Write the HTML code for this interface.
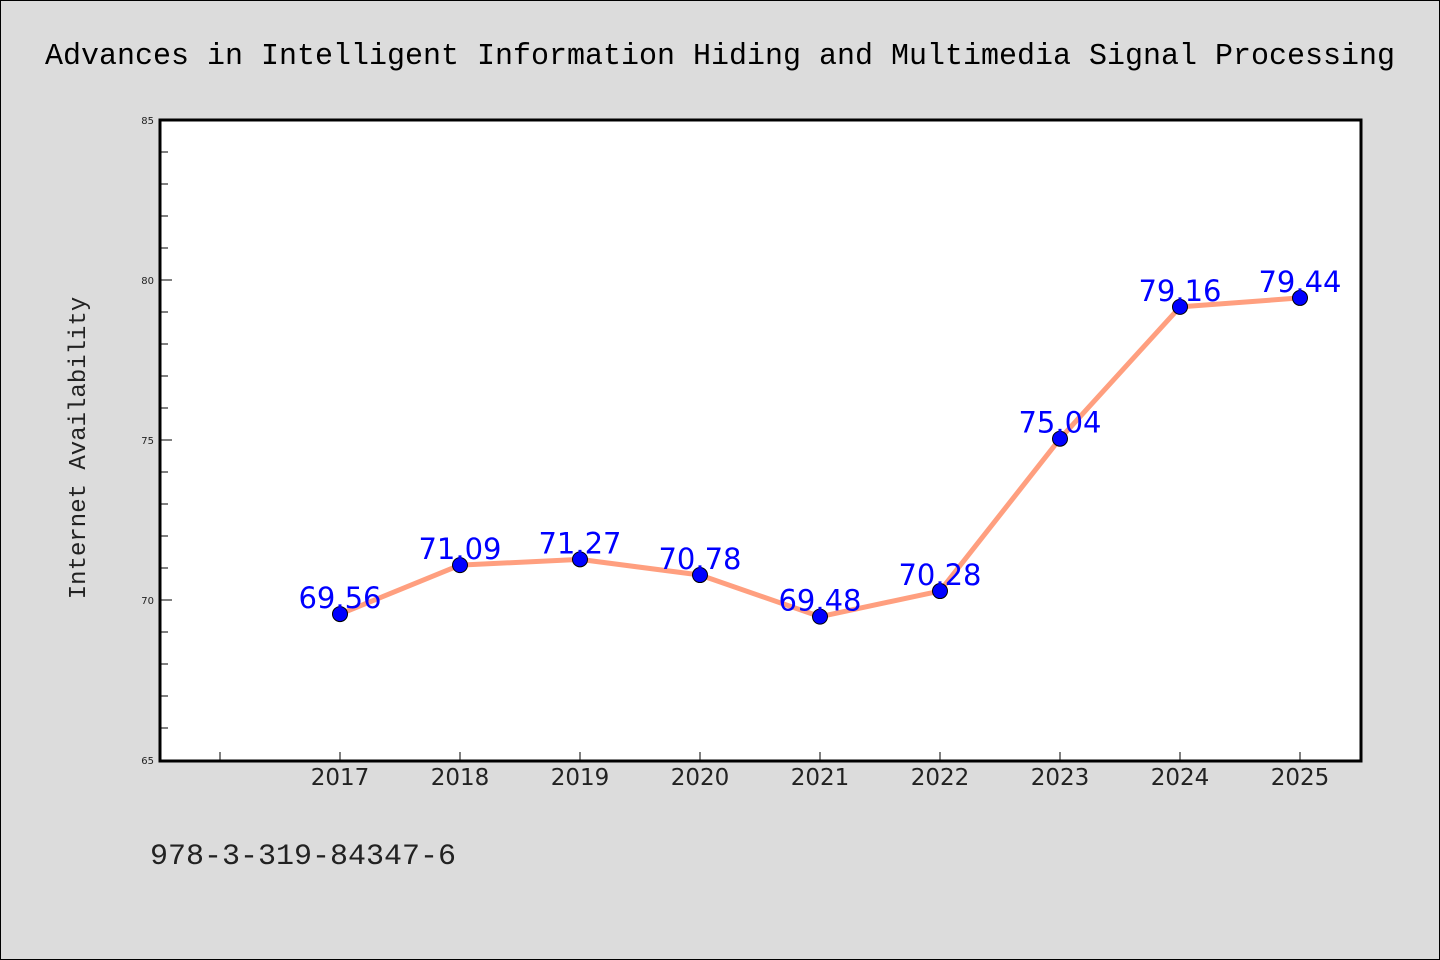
<!DOCTYPE html>
<html><head><meta charset="utf-8"><style>
body{margin:0;background:#dcdcdc;}
svg{display:block;}
</style></head><body>
<svg width="1440" height="960" xmlns="http://www.w3.org/2000/svg" id="chart">
<rect x="0.5" y="0.5" width="1439" height="959" fill="#dcdcdc" stroke="#000"/>
<text x="45" y="64" textLength="1350" lengthAdjust="spacingAndGlyphs" font-family="'Liberation Mono', 'WenQuanYi Zen Hei', monospace" font-size="31" fill="#000">Advances in Intelligent Information Hiding and Multimedia Signal Processing</text>
<rect x="160" y="120" width="1201" height="641" fill="#fff"/>
<text transform="translate(85,448) rotate(-90)" text-anchor="middle" font-family="'Liberation Mono', monospace" font-size="24" fill="#222">Internet Availability</text>
<text x="150" y="864" font-family="'Liberation Mono', monospace" font-size="30" fill="#222">978-3-319-84347-6</text>
<g id="ticks"></g>
<g id="series"></g>
<rect x="160" y="120" width="1201" height="641" fill="none" stroke="#000" stroke-width="3"/>
</svg>
<script>
const years = ["2017","2018","2019","2020","2021","2022","2023","2024","2025"];
const values = [69.56, 71.09, 71.27, 70.78, 69.48, 70.28, 75.04, 79.16, 79.44];
const yTicks = [65, 70, 75, 80, 85];
const NS = "http://www.w3.org/2000/svg";
const L=160,R=1361,T=120,B=760,yMin=65,yMax=85;
function y(v){return B-(v-yMin)/(yMax-yMin)*(B-T);}
function x(i){return 340+i*120;}
function mk(tag,attrs,parent){const e=document.createElementNS(NS,tag);for(const k in attrs)e.setAttribute(k,attrs[k]);parent.appendChild(e);return e;}
const tg=document.getElementById('ticks'), sg=document.getElementById('series');
for(let v=yMin; v<=yMax; v++){
  const major=yTicks.includes(v);
  const t=mk('line',{x1:L,x2:L+(major?12:8),y1:y(v),y2:y(v),stroke:'#000','stroke-width':1},tg);
  
  
}
yTicks.forEach(v=>{
  const t=mk('text',{x:L-6,y:y(v)+4,'text-anchor':'end','font-family':'DejaVu Sans, sans-serif','font-size':10,fill:'#222'},tg);
  t.textContent=v;
  
  
});
for(let i=-1;i<years.length;i++){
  const t=mk('line',{x1:x(i),x2:x(i),y1:B,y2:B-8,stroke:'#000','stroke-width':1},tg);
  
  
}
years.forEach((yr,i)=>{
  const t=mk('text',{x:x(i),y:B+25,'text-anchor':'middle','font-family':'DejaVu Sans, sans-serif','font-size':23,fill:'#222'},tg);
  t.textContent=yr;
  
  
});
const line=mk('polyline',{points:values.map((v,i)=>x(i)+','+y(v)).join(' '),fill:'none',stroke:'#ff9f7f','stroke-width':5,'stroke-linejoin':'round'},sg);


values.forEach((v,i)=>{
  const c=mk('circle',{cx:x(i),cy:y(v),r:7.5,fill:'#0000ff',stroke:'#000','stroke-width':1},sg);
  
  
  const t=mk('text',{x:x(i),y:y(v)-6,'text-anchor':'middle','font-family':'DejaVu Sans, sans-serif','font-size':29,fill:'#0000ff'},sg);
  t.textContent=v.toFixed(2);
  
  
});
</script>
</body></html>
